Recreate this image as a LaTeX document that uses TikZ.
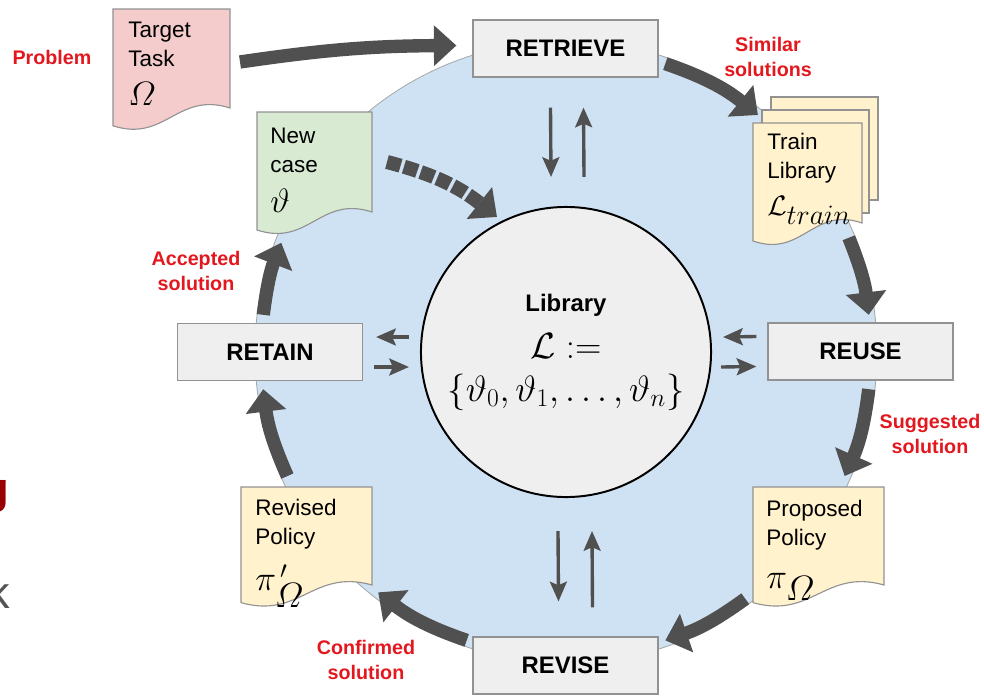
\documentclass[tikz,border=0pt]{standalone}
\usepackage{fix-cm}
\usepackage{amsmath}
\usepackage{fontspec}
\setmainfont{Liberation Sans}
\usetikzlibrary{arrows.meta,calc}

\definecolor{ringblue}{HTML}{CFE2F3}
\definecolor{boxfill}{HTML}{EFEFEF}
\definecolor{boxline}{HTML}{929292}
\definecolor{pinkdoc}{HTML}{F4CCCC}
\definecolor{greendoc}{HTML}{D9EAD3}
\definecolor{yellowdoc}{HTML}{FFF2CC}
\definecolor{flowgray}{HTML}{505050}
\definecolor{labelred}{HTML}{E3171E}
\definecolor{fragred}{HTML}{990000}
\definecolor{fraggray}{HTML}{555555}

\tikzset{
  ring/.style={circle, fill=ringblue, draw=boxline!80, line width=0.6pt, minimum size=15.55cm, inner sep=0pt},
  stage/.style={draw=boxline, fill=boxfill, line width=0.8pt, minimum width=4.625cm, minimum height=1.425cm, font=\bfseries\fontsize{17}{20}\selectfont},
  libnode/.style={circle, draw=black, fill=boxfill, line width=1.4pt, minimum size=7.25cm, inner sep=0pt, align=center, font=\fontsize{26}{30.5}\selectfont},
  doctext/.style={anchor=north west, inner sep=0pt, align=left, font=\fontsize{16}{20.5}\selectfont},
  docline/.style={draw=boxline, line width=0.8pt},
  note/.style={text=labelred, align=center, font=\bfseries\fontsize{14}{17.5}\selectfont},
  flow/.style={color=flowgray, line width=9.5pt, -{Triangle[width=28pt,length=16pt]}},
  swap/.style={color=flowgray, line width=2.4pt, -{Stealth[length=14pt,width=12pt,inset=2.5pt]}}
}

% sheet with a wavy lower edge: left, top, width, height, fill
\newcommand{\docsheet}[5]{%
  \filldraw[docline, fill=#5] (#1,#2) -- ++(#3,0) -- ++(0,#4)
    .. controls +(-0.45*#3,-0.17*#4) and +(0.45*#3,0.17*#4) .. ++(-#3,0.18*#4) -- cycle;}

\begin{document}
\begin{tikzpicture}[x=0.025cm, y=-0.025cm]
\useasboundingbox (0,0) rectangle (984,697);

% the cycle
\node[ring] (ring) at (566,352) {};

% sheets
\docsheet{113}{9}{117}{99}{pinkdoc}
\docsheet{257}{112}{115}{100}{greendoc}
\filldraw[docline, fill=yellowdoc] (771,97) rectangle (878,200);
\filldraw[docline, fill=yellowdoc] (762,110) rectangle (869,213);
\docsheet{753}{123}{109}{100}{yellowdoc}
\docsheet{753}{487}{131}{98}{yellowdoc}
\docsheet{241}{487}{131}{98}{yellowdoc}

% texts on the sheets
\node[doctext] (target) at (128,22) {Target\\Task\\[7pt]{\fontsize{24}{24}\selectfont$\varOmega$}};
\node[doctext] (newcase) at (270,128) {New\\case\\[8pt]{\fontsize{24}{24}\selectfont$\vartheta$}};
\node[doctext] (trainlib) at (767,133) {Train\\Library\\[6pt]{\fontsize{20}{20}\selectfont$\mathcal{L}_{\textstyle train}$}};
\node[doctext] (proposed) at (766,500) {Proposed\\Policy\\[10pt]{\fontsize{25}{25}\selectfont$\pi_{\textstyle\varOmega}$}};
\node[doctext] (revised) at (255,499) {Revised\\Policy\\[10pt]{\fontsize{25}{25}\selectfont$\pi^{\,\prime}_{\textstyle\varOmega}$}};

% steps
\node[stage] (retrieve) at (565.5,48.5) {RETRIEVE};
\node[stage] (reuse) at (860.5,351.5) {REUSE};
\node[stage] (retain) at (270,352) {RETAIN};
\node[stage] (revise) at (565.5,665.5) {REVISE};

% library in the middle
\node[libnode] (library) at (566,352) {{\fontsize{17}{20}\selectfont\bfseries Library}\\[3pt]$\mathcal{L}:=$\\$\{\vartheta_0,\vartheta_1,\ldots,\vartheta_n\}$};

% labels
\node[note] (problem) at (52,57) {Problem};
\node[note] (similar) at (768,57) {Similar\\solutions};
\node[note] (suggested) at (930,434) {Suggested\\solution};
\node[note] (confirmed) at (366,660) {Confirmed\\solution};
\node[note] (accepted) at (196,271) {Accepted\\solution};

% cut off at the left edge
\node[anchor=base east, inner sep=0pt, text=fragred, font=\bfseries\fontsize{31}{31}\selectfont] (cutg) at (9,503) {g};
\node[anchor=base east, inner sep=0pt, text=fraggray, font=\fontsize{32}{32}\selectfont] (cutk) at (10,608) {k};

% problem into the cycle
\coordinate (probout) at (240,62);
\draw[flow] (probout) to[bend left=4] ($(retrieve.west)+(-16,-3)$);

% new case into the library
\coordinate (caseout) at (387,162);
\coordinate (libin) at (497,217);
\draw[flow, line width=10pt, dash pattern=on 10pt off 2.5pt] (caseout) to[bend left=12] (libin);

% arrows round the ring (y grows downwards, so angles are negated)
\coordinate (f1a) at ($(ring)+(-71:305)$);
\coordinate (f1b) at ($(ring)+(-51:305)$);
\coordinate (f2a) at ($(ring)+(-22:305)$);
\coordinate (f2b) at ($(ring)+(-7:305)$);
\coordinate (f3a) at ($(ring)+(7:305)$);
\coordinate (f3b) at ($(ring)+(24:305)$);
\coordinate (f4a) at ($(ring)+(54:305)$);
\coordinate (f4b) at ($(ring)+(71:305)$);
\coordinate (f5a) at ($(ring)+(109:305)$);
\coordinate (f5b) at ($(ring)+(128:305)$);
\coordinate (f6a) at ($(ring)+(156:305)$);
\coordinate (f6b) at ($(ring)+(173:305)$);
\coordinate (f7a) at ($(ring)+(-173:305)$);
\coordinate (f7b) at ($(ring)+(-159:305)$);
\draw[flow] (f1a) to[bend left=10] (f1b);
\draw[flow] (f2a) to[bend left=7.5] (f2b);
\draw[flow] (f3a) to[bend left=8.5] (f3b);
\draw[flow] (f4a) to[bend left=8.5] (f4b);
\draw[flow] (f5a) to[bend left=9.5] (f5b);
\draw[flow] (f6a) to[bend left=8.5] (f6b);
\draw[flow] (f7a) to[bend left=7] (f7b);

% exchange with the library
\draw[swap] ($(retrieve.south)+(-15,30)$) -- ($(library.north)+(-15,-29)$);
\draw[swap] ($(library.north)+(18,-29)$) -- ($(retrieve.south)+(18,30)$);
\draw[swap] ($(library.south)+(-8,33)$) -- ($(revise.north)+(-7,-35)$);
\draw[swap] ($(revise.north)+(27,-29)$) -- ($(library.south)+(26,33)$);
\draw[swap] ($(library.west)+(-11,-15)$) -- ($(retain.east)+(13,-15)$);
\draw[swap] ($(retain.east)+(11,15)$) -- ($(library.west)+(-11,15)$);
\draw[swap] ($(reuse.west)+(-11,-15)$) -- ($(library.east)+(11,-15)$);
\draw[swap] ($(library.east)+(9,15)$) -- ($(reuse.west)+(-11,15)$);
\end{tikzpicture}
\end{document}
